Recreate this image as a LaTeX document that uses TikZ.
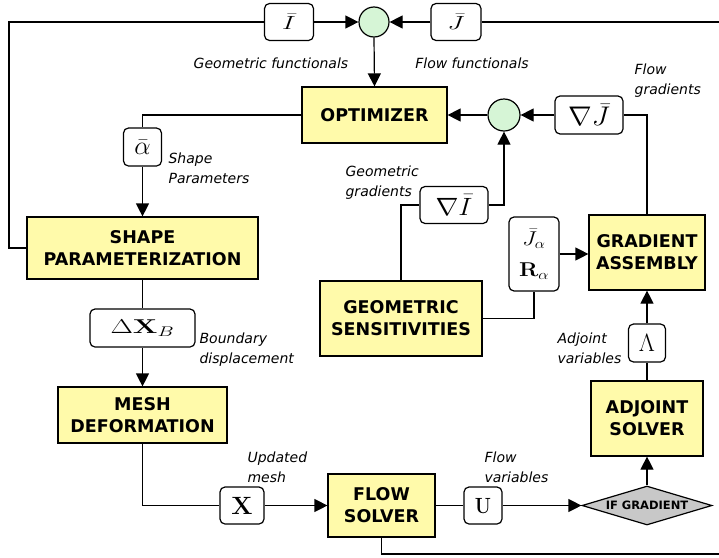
\RequirePackage{fix-cm}
\documentclass[tikz,border=0pt]{standalone}
\usepackage{amsmath}
\usepackage{graphicx}
\usepackage[no-math]{fontspec}
\setmainfont{DejaVu Sans}
\usetikzlibrary{arrows.meta,shapes.geometric}
\definecolor{boxyellow}{RGB}{255,250,170}
\definecolor{sumgreen}{RGB}{214,245,214}
\definecolor{ifgrey}{RGB}{200,200,200}
\newcommand{\widemath}[2]{\scalebox{#1}[1]{$#2$}}

\begin{document}
\begin{tikzpicture}[x=1pt,y=-1pt,line width=1.2pt,
	block/.style={draw,fill=boxyellow,align=center,inner sep=0pt,
		font=\fontsize{17.5}{22}\selectfont\bfseries},
	var/.style={draw,rounded corners=5pt,fill=white,inner sep=0pt},
	sumpt/.style={draw,circle,fill=sumgreen,inner sep=0pt},
	lbl/.style={inner sep=0pt,align=left,
		font=\fontsize{14}{20}\selectfont\itshape},
	arr/.style={-{Triangle[length=13pt,width=13pt]}}]
	\useasboundingbox (0,0) rectangle (719,557);
	% summing points
	\node[sumpt,minimum size=30pt] (sumf) at (374,22) {};
	\node[sumpt,minimum size=32pt] (sumg) at (504,115) {};
	% blocks
	\node[block,minimum width=145pt,minimum height=56pt] (opt) at (374.5,115) {OPTIMIZER};
	\node[block,minimum width=231pt,minimum height=62pt] (shape) at (142.5,248) {SHAPE\\PARAMETERIZATION};
	\node[block,minimum width=169pt,minimum height=56pt] (mesh) at (142.5,415) {MESH\\DEFORMATION};
	\node[block,minimum width=107pt,minimum height=63pt] (flow) at (381.5,505.5) {FLOW\\SOLVER};
	\node[block,minimum width=162pt,minimum height=75pt] (gsens) at (401,318.5) {GEOMETRIC\\SENSITIVITIES};
	\node[block,minimum width=116pt,minimum height=75pt] (gasm) at (647,252.5) {GRADIENT\\ASSEMBLY};
	\node[block,minimum width=112pt,minimum height=75pt] (adj) at (647,418.5) {ADJOINT\\SOLVER};
	\node[draw,diamond,aspect=3.33,fill=ifgrey,inner sep=0pt,minimum width=130pt,minimum height=39pt,
		font=\fontsize{11.5}{12}\selectfont\bfseries] (ifg) at (647,505.5) {IF GRADIENT};
	% variables
	\node[var,minimum width=49pt,minimum height=37pt,font=\fontsize{19}{24}\selectfont] (ibar) at (289,22) {\widemath{1.4}{\bar{I}}};
	\node[var,minimum width=50pt,minimum height=37pt,font=\fontsize{19}{24}\selectfont] (jbar) at (456,22) {\widemath{1.4}{\bar{J}}};
	\node[var,minimum width=68pt,minimum height=38pt,font=\fontsize{27}{30}\selectfont] (gradj) at (589,115) {\widemath{1.05}{\nabla\bar{J}}};
	\node[var,minimum width=68pt,minimum height=37pt,font=\fontsize{25}{30}\selectfont] (gradi) at (454,205) {\widemath{1.1}{\nabla\bar{I}}};
	\node[var,minimum width=50pt,minimum height=74pt,align=center,font=\fontsize{20}{31}\selectfont] (jr) at (534,254) {\widemath{1.15}{\bar{J}_\alpha}\\\widemath{1.15}{\mathbf{R}_\alpha}};
	\node[var,minimum width=37pt,minimum height=38pt,font=\fontsize{25}{28}\selectfont] (lam) at (647,343) {$\Lambda$};
	\node[var,minimum width=38pt,minimum height=37pt,font=\fontsize{22}{28}\selectfont] (u) at (483,505.5) {\widemath{0.85}{\mathbf{U}}};
	\node[var,minimum width=44pt,minimum height=37pt,font=\fontsize{25}{28}\selectfont] (x) at (242,505.5) {$\mathbf{X}$};
	\node[var,minimum width=105pt,minimum height=38pt,font=\fontsize{20}{28}\selectfont] (dxb) at (142.5,328) {\widemath{1.45}{\Delta\mathbf{X}_B}};
	\node[var,minimum width=38pt,minimum height=38pt,font=\fontsize{26}{28}\selectfont] (alpha) at (142.5,147) {$\bar{\alpha}$};
	% labels
	\node[lbl] (lgf) at (271,63) {Geometric functionals};
	\node[lbl] (lff) at (472,63) {Flow functionals};
	\node[lbl,anchor=west] (lsp) at (168,168) {Shape\\Parameters};
	\node[lbl,anchor=west] (lgg) at (345,183) {Geometric\\gradients};
	\node[lbl,anchor=west] (lfg) at (634,81) {Flow\\gradients};
	\node[lbl,anchor=west] (lbd) at (199,349.5) {Boundary\\displacement};
	\node[lbl,anchor=west] (lav) at (557,348) {Adjoint\\variables};
	\node[lbl,anchor=west] (lum) at (247,467.5) {Updated\\mesh};
	\node[lbl,anchor=west] (lfv) at (484,467.5) {Flow\\variables};
	% loose ends of the outer loops
	\coordinate (lt) at (9,22);
	\coordinate (rt) at (726,22);
	\coordinate (rb) at (726,554);
	% connectors
	\draw (shape.west) -| (lt) -- (ibar.west);
	\draw[arr] (ibar.east) -- (sumf.west);
	\draw (flow.south) |- (rb) -- (rt) -- (jbar.east);
	\draw[arr] (jbar.west) -- (sumf.east);
	\draw[arr] (sumf.south) -- (opt.north);
	\draw[arr] (sumg.west) -- (opt.east);
	\draw[arr] (gradj.west) -- (sumg.east);
	\draw (gasm.north) |- (gradj.east);
	\draw (gsens.north) |- (gradi.west);
	\draw[arr] (gradi.east) -| (sumg.south);
	\draw (gsens.east) -| (jr.south);
	\draw[arr] (jr.east) -- (jr.east -| gasm.west);
	\draw (adj.north) -- (lam.south);
	\draw[arr] (lam.north) -- (gasm.south);
	\draw[arr] (ifg.north) -- (adj.south);
	\draw (flow.east) -- (u.west);
	\draw[arr] (u.east) -- (ifg.west);
	\draw (mesh.south) |- (x.west);
	\draw[arr] (x.east) -- (flow.west);
	\draw (shape.south) -- (dxb.north);
	\draw[arr] (dxb.south) -- (mesh.north);
	\draw (opt.west) -| (alpha.north);
	\draw[arr] (alpha.south) -- (shape.north);
\end{tikzpicture}
\end{document}
